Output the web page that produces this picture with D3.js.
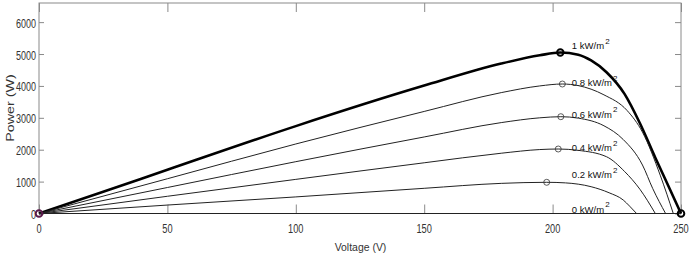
<!DOCTYPE html>
<html><head><meta charset="utf-8">
<script src="https://cdn.jsdelivr.net/npm/d3@7"></script>
<style>
body{margin:0;background:#fff;}
text{font-family:"Liberation Sans",Arial,Helvetica,sans-serif;}
</style></head>
<body><svg id="c" width="692" height="259"></svg>
<script>
const irradianceLabels = ["1", "0.8", "0.6", "0.4", "0.2", "0"];
const voltage1 = [0, 25, 50, 100, 150, 180, 195, 203, 210, 215, 221, 228, 234, 240, 245, 250];
const power1   = [0, 680, 1370, 2740, 4010, 4700, 4960, 5050, 4980, 4800, 4430, 3750, 2830, 1750, 880, 0];
const voltage08 = [0, 50, 100, 150, 180, 195, 203.8, 210, 220, 229, 235, 242, 247];
const power08   = [0, 1090, 2180, 3200, 3790, 4000, 4060, 4010, 3720, 3230, 2550, 1180, 0];
const voltage06 = [0, 50, 100, 150, 180, 195, 203.2, 210, 220, 227.5, 235, 239, 244];
const power06   = [0, 815, 1625, 2400, 2850, 3000, 3035, 2990, 2750, 2320, 1520, 780, 0];
const voltage04 = [0, 50, 100, 150, 180, 195, 202.2, 210, 221, 228, 234, 240];
const power04   = [0, 540, 1070, 1590, 1890, 2005, 2022, 1980, 1780, 1320, 760, 0];
const voltage02 = [0, 50, 100, 150, 180, 197.7, 205, 215, 222, 227.5, 230, 232.7];
const power02   = [0, 265, 520, 790, 945, 978, 960, 840, 650, 423, 230, 0];
const voltage0 = [0, 250];
const power0   = [0, 0];
const mppVoltage = [203, 203.8, 203.2, 202.2, 197.7];
const mppPower   = [5050, 4060, 3035, 2022, 978];
const xTicks = [0, 50, 100, 150, 200, 250];
const yTicks = [0, 1000, 2000, 3000, 4000, 5000, 6000];

const svg = d3.select("#c");
const x = d3.scaleLinear().domain([0, 250]).range([39, 681]);
const y = d3.scaleLinear().domain([0, 6600]).range([213.5, 3]);
const axisCol = "#8a8a8a";

function squeeze(sel, f) {
  sel.each(function() {
    const w = this.getComputedTextLength();
    this.setAttribute("textLength", (w * f).toFixed(2));
    this.setAttribute("lengthAdjust", "spacingAndGlyphs");
  });
}

// box
svg.append("rect").attr("x", 39).attr("y", 3).attr("width", 642).attr("height", 210.5)
  .attr("fill", "none").attr("stroke", axisCol).attr("stroke-width", 1);

// axes with inward ticks
const gx = svg.append("g").attr("transform", "translate(0,213.5)")
  .call(d3.axisTop(x).tickValues(xTicks).tickSize(9).tickFormat(""));
const gxt = svg.append("g").attr("transform", "translate(0,3)")
  .call(d3.axisBottom(x).tickValues(xTicks).tickSize(9).tickFormat(""));
const gy = svg.append("g").attr("transform", "translate(39,0)")
  .call(d3.axisRight(y).tickValues(yTicks).tickSize(5).tickFormat(""));
const gyr = svg.append("g").attr("transform", "translate(681,0)")
  .call(d3.axisLeft(y).tickValues(yTicks).tickSize(6).tickFormat(""));
[gx, gxt, gy, gyr].forEach(g => {
  g.select(".domain").remove();
  g.selectAll("line").attr("stroke", axisCol);
});

// tick labels
const xl = svg.append("g").selectAll("text").data(xTicks).join("text")
  .attr("x", d => x(d)).attr("y", 233).attr("text-anchor", "middle")
  .attr("font-size", 12).attr("fill", "#333").text(d => d);
squeeze(xl, 0.77);
const yl = svg.append("g").selectAll("text").data(yTicks).join("text")
  .attr("x", 36).attr("y", d => y(d) + 5.5).attr("text-anchor", "end")
  .attr("font-size", 12).attr("fill", "#333").text(d => d);
squeeze(yl, 0.75);

const xt = svg.append("text").attr("x", 360.5).attr("y", 250.5).attr("text-anchor", "middle")
  .attr("font-size", 11).attr("fill", "#333").text("Voltage (V)");
squeeze(xt, 0.95);
const yt = svg.append("text").attr("transform", "translate(14,108) rotate(-90)").attr("text-anchor", "middle")
  .attr("font-size", 11).attr("fill", "#333").text("Power (W)");
squeeze(yt, 1.3);

const line = d3.line().x(d => x(d[0])).y(d => y(d[1])).curve(d3.curveMonotoneX);
const series = [
  [voltage1, power1, 2.6, "#000"],
  [voltage08, power08, 1, "#222"],
  [voltage06, power06, 1, "#222"],
  [voltage04, power04, 1, "#222"],
  [voltage02, power02, 1, "#222"],
  [voltage0, power0, 1, "#222"]
];
series.forEach(([vs, ps, w, c]) => {
  svg.append("path").datum(vs.map((v, i) => [v, ps[i]]))
    .attr("d", line).attr("fill", "none").attr("stroke", c).attr("stroke-width", w);
});

// MPP markers
svg.append("g").selectAll("circle").data(mppVoltage).join("circle")
  .attr("cx", d => x(d)).attr("cy", (d, i) => y(mppPower[i]))
  .attr("r", (d, i) => i === 0 ? 3.2 : 3)
  .attr("fill", "none").attr("stroke", (d, i) => i === 0 ? "#000" : "#333")
  .attr("stroke-width", (d, i) => i === 0 ? 2 : 0.8);

svg.append("circle").attr("cx", x(0)).attr("cy", y(0)).attr("r", 3.3)
  .attr("fill", "none").attr("stroke", "#5a1a4a").attr("stroke-width", 2);
svg.append("circle").attr("cx", x(250)).attr("cy", y(0)).attr("r", 3.3)
  .attr("fill", "none").attr("stroke", "#000").attr("stroke-width", 2);

// curve labels
const labelDy = [-3, 2, 1, 2, -4, -1];
const labelP = [5050, 4060, 3035, 2022, 978, 0];
const lg = svg.append("g");
irradianceLabels.forEach((l, i) => {
  const bx = x(207.5), by = y(labelP[i]) + labelDy[i];
  const t = lg.append("text").attr("x", bx).attr("y", by)
    .attr("font-size", 9.5).attr("fill", "#111").text(l + " kW/m");
  const w = t.node().getBBox().width;
  lg.append("text").attr("x", bx + w + 1).attr("y", by - 5.5)
    .attr("font-size", 8).attr("fill", "#111").text("2");
});
</script></body></html>
